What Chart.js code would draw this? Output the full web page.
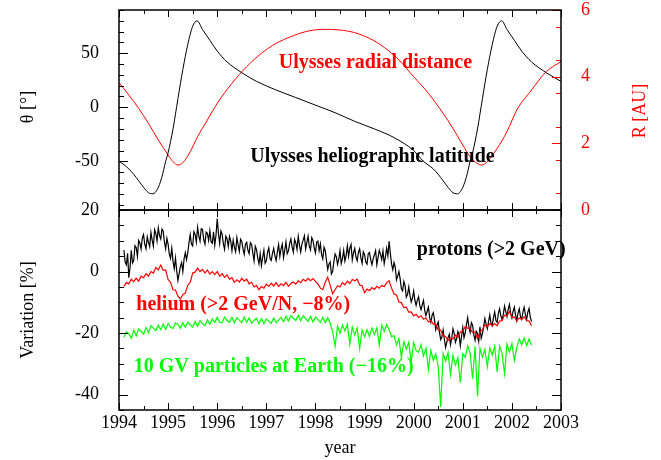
<!DOCTYPE html>
<html>
<head>
<meta charset="utf-8">
<script src="https://cdn.jsdelivr.net/npm/chart.js@4/dist/chart.umd.min.js"></script>
<style>
body { margin: 0; background: #fff; width: 661px; height: 460px; position: relative; overflow: hidden; }
canvas { position: absolute; left: 0; }
#top { top: 0; }
#bottom { top: 200px; }
</style>
</head>
<body>
<canvas id="top" width="661" height="220"></canvas>
<canvas id="bottom" width="661" height="260"></canvas>
<script>
// tick labels
const yearTicks = [1994, 1995, 1996, 1997, 1998, 1999, 2000, 2001, 2002, 2003];
const thetaTicks = [-50, 0, 50];
const rTicks = [0, 2, 4, 6];
const varTicks = [-40, -20, 0, 20];

// Ulysses heliographic latitude [deg]
const latYears = [1994.00, 1994.10, 1994.20, 1994.30, 1994.40, 1994.50, 1994.60, 1994.69, 1994.78, 1994.87,
  1994.95, 1995.00, 1995.10, 1995.20, 1995.30, 1995.40, 1995.50, 1995.59, 1995.70, 1995.85,
  1996.00, 1996.20, 1996.50, 1996.80, 1997.20, 1997.60, 1998.00, 1998.40, 1998.80, 1999.20,
  1999.60, 2000.00, 2000.20, 2000.40, 2000.50, 2000.60, 2000.70, 2000.80, 2000.89, 2000.98,
  2001.07, 2001.15, 2001.20, 2001.30, 2001.40, 2001.50, 2001.60, 2001.70, 2001.79, 2001.90,
  2002.05, 2002.20, 2002.40, 2002.70, 2003.00];
const latitude = [-50, -53, -57, -62, -68, -74, -79, -80, -76, -65,
  -50, -42, -20, 8, 35, 58, 75, 80, 72, 62,
  52, 42, 32, 24, 16, 9, 2, -5, -13, -20,
  -28, -40, -50, -57, -62, -68, -74, -79, -80, -76,
  -65, -50, -42, -20, 8, 35, 58, 75, 80, 72,
  62, 52, 42, 32, 24];

// Ulysses radial distance [AU]
const rYears = [1994.00, 1994.20, 1994.40, 1994.60, 1994.80, 1995.00, 1995.10, 1995.20, 1995.30, 1995.45,
  1995.60, 1995.80, 1996.00, 1996.30, 1996.60, 1996.90, 1997.20, 1997.50, 1997.80, 1998.16,
  1998.50, 1998.80, 1999.10, 1999.40, 1999.70, 2000.00, 2000.30, 2000.60, 2000.80, 2001.00,
  2001.15, 2001.29, 2001.39, 2001.50, 2001.70, 2001.90, 2002.10, 2002.40, 2002.70, 2003.00];
const distance = [3.82, 3.45, 3.05, 2.6, 2.1, 1.65, 1.45, 1.35, 1.42, 1.75,
  2.2, 2.7, 3.2, 3.8, 4.3, 4.7, 5.0, 5.2, 5.35, 5.42,
  5.4, 5.32, 5.15, 4.88, 4.5, 4.0, 3.5, 2.9, 2.45, 1.95,
  1.6, 1.4, 1.35, 1.45, 1.85, 2.35, 3.0, 3.6, 4.15, 4.45];

// count-rate variations [%], sampled from 1994.10 on
const sampleStart = 1994.10;
const protonStep = 0.025;
const sampleStep = 0.05;
const protons = [
  7.0, 3.1, 2.2, 5.9, -2.0, 1.4, 6.9, 2.8, 3.6, 8.4, 7.8, 4.9, 10.1, 9.3, 7.3, 10.9, 12.0, 8.8, 7.4, 11.3,
  9.5, 8.1, 12.7, 10.2, 8.2, 13.6, 12.4, 9.9, 14.2, 11.7, 10.6, 13.8, 13.1, 9.6, 7.4, 10.8, 8.9, 5.6, 4.3, 7.6,
  3.3, 0.9, 4.4, 0.2, -2.9, -0.6, 1.7, 2.9, 0.0, 4.1, 6.1, 3.8, 6.1, 9.4, 12.0, 8.9, 8.3, 13.0, 12.1, 9.6,
  14.4, 11.6, 9.9, 13.9, 13.7, 10.4, 8.9, 12.8, 12.4, 10.1, 13.3, 9.7, 9.2, 12.9, 8.5, 11.8, 17.2, 12.4, 9.1, 13.2,
  12.1, 9.0, 7.2, 11.5, 10.7, 8.1, 11.4, 9.9, 6.8, 10.2, 7.9, 6.4, 11.0, 8.7, 6.6, 10.5, 9.8, 7.3, 5.6, 8.9,
  9.5, 6.9, 5.8, 9.4, 8.8, 6.0, 3.5, 8.2, 7.1, 4.4, 2.5, 5.8, 1.9, 4.6, 6.9, 2.7, 3.5, 6.3, 7.7, 4.2,
  3.6, 5.9, 7.5, 5.1, 3.6, 6.4, 8.8, 4.9, 7.4, 8.9, 4.5, 7.0, 9.6, 5.8, 6.7, 9.1, 10.6, 8.0, 6.3, 10.4,
  9.3, 7.2, 11.4, 8.6, 6.4, 9.0, 10.2, 11.6, 7.3, 9.4, 11.5, 8.2, 7.0, 11.0, 10.1, 7.7, 6.1, 9.6, 9.9, 6.8,
  9.0, 5.5, 4.1, 7.9, 6.8, 3.6, 0.7, 2.4, 3.1, -0.8, 0.0, 3.2, 5.7, 4.8, 2.3, 4.0, 6.8, 2.6, 4.2, 6.9,
  3.4, 5.2, 8.4, 4.9, 7.6, 8.8, 3.8, 6.1, 7.5, 4.8, 3.5, 6.2, 7.4, 4.5, 2.7, 6.4, 5.5, 3.1, 2.4, 5.8,
  6.2, 3.9, 2.2, 4.1, 5.4, 6.8, 2.2, 4.6, 6.9, 5.6, 3.9, 6.7, 2.6, 4.8, 7.6, 5.1, 9.8, 5.9, 2.4, 0.6,
  2.9, 1.4, -2.7, -1.5, 0.0, -2.4, -5.6, -6.3, -3.2, -4.6, -8.3, -7.5, -5.0, -7.8, -9.9, -8.6, -6.3, -9.4, -11.0, -9.3,
  -8.2, -11.1, -12.4, -10.8, -9.4, -12.6, -14.3, -12.9, -11.6, -14.9, -16.5, -14.2, -13.4, -15.8, -18.9, -17.4, -16.4, -19.6, -22.1, -21.3,
  -19.0, -22.0, -24.6, -22.9, -21.5, -20.4, -23.8, -21.6, -18.6, -20.1, -23.0, -21.8, -19.5, -20.6, -24.1, -21.1, -18.2, -21.5, -19.9, -17.2,
  -15.0, -18.1, -19.8, -16.6, -17.4, -20.6, -22.3, -19.4, -20.1, -22.6, -18.0, -21.7, -20.2, -17.9, -15.3, -17.1, -18.6, -16.2, -14.1, -16.8,
  -17.6, -15.0, -13.2, -15.9, -16.5, -13.6, -12.1, -14.4, -15.6, -13.9, -11.2, -13.0, -14.6, -12.2, -10.7, -13.5, -15.1, -12.9, -11.6, -14.2,
  -16.0, -13.4, -12.1, -14.7, -15.5, -13.1, -11.6, -14.0, -15.6, -13.2, -12.0, -14.8, -16.3];
const helium = [
  -4.8, -3.6, -4.0, -2.5, -3.3, -2.2, -3.1, -1.5, -2.0, -0.7, -1.5, 0.0, -0.5, 1.3, 0.6, 2.1, 0.4, 0.5, -2.6, -3.5,
  -6.0, -6.0, -8.0, -8.9, -7.5, -7.0, -4.5, -3.5, -0.5, -0.2, 1.1, 0.0, 0.7, -0.5, 0.5, -0.8, 0.0, -1.0, 0.0, -1.5,
  -0.7, -1.9, -1.1, -2.5, -2.0, -3.5, -2.7, -3.4, -2.2, -3.1, -2.5, -4.0, -3.5, -5.0, -4.5, -5.9, -4.9, -5.4, -4.1, -4.8,
  -3.8, -4.7, -3.6, -4.9, -4.0, -4.6, -3.5, -4.8, -3.9, -3.4, -4.1, -3.0, -3.6, -2.5, -3.1, -2.2, -3.0, -2.3, -3.2, -4.0,
  -5.4, -5.9, -3.5, -1.8, -4.5, -7.2, -5.9, -4.6, -5.0, -3.6, -4.3, -3.1, -3.9, -2.6, -3.0, -2.5, -4.4, -4.6, -6.9, -5.7,
  -6.2, -5.2, -5.8, -4.8, -5.4, -4.5, -4.9, -3.6, -3.0, -5.4, -7.3, -7.6, -9.9, -10.1, -11.7, -11.6, -13.2, -13.1, -14.4, -13.9,
  -14.9, -14.4, -15.5, -15.1, -16.4, -15.9, -17.1, -17.1, -18.9, -19.1, -20.9, -21.1, -22.4, -21.6, -21.9, -20.6, -21.4, -19.6, -19.4, -17.9,
  -18.4, -18.6, -19.8, -19.6, -21.9, -19.6, -18.9, -17.4, -17.9, -16.9, -17.7, -16.9, -17.6, -16.1, -15.9, -14.2, -14.4, -13.0, -14.9, -14.8,
  -16.1, -15.1, -15.6, -14.7, -15.9, -16.1, -17.6];
const earth10GV = [
  -21.4, -19.6, -20.2, -21.7, -19.1, -20.9, -18.6, -19.4, -20.4, -18.2, -19.9, -17.6, -18.4, -19.2, -17.5, -18.9, -17.1, -18.8, -16.9, -18.1,
  -18.5, -16.7, -17.2, -18.4, -16.6, -18.1, -16.4, -17.3, -18.0, -16.2, -17.8, -16.0, -16.9, -17.6, -15.7, -17.1, -15.4, -16.6, -14.9, -16.5,
  -16.6, -14.8, -15.9, -16.5, -14.9, -16.7, -15.0, -15.8, -16.6, -14.8, -16.5, -15.1, -16.8, -15.9, -15.2, -16.9, -15.3, -17.0, -15.4, -16.2,
  -16.8, -15.1, -16.6, -15.7, -14.9, -16.3, -14.6, -16.1, -14.3, -15.2, -15.9, -14.2, -16.0, -14.4, -15.3, -16.2, -14.6, -16.4, -14.8, -15.6,
  -16.5, -14.9, -16.6, -15.0, -16.8, -19.5, -24.3, -17.8, -20.0, -17.4, -19.3, -17.2, -23.6, -18.0, -20.6, -18.4, -25.1, -19.0, -21.2, -18.9,
  -21.0, -18.4, -20.5, -18.3, -23.9, -17.4, -19.4, -17.2, -18.9, -21.2, -20.8, -23.9, -21.8, -27.9, -22.8, -25.2, -23.0, -29.6, -23.1, -25.7,
  -26.2, -23.8, -27.4, -24.9, -31.8, -25.6, -28.9, -26.8, -31.0, -44.0, -26.6, -29.1, -26.3, -33.5, -27.2, -30.4, -28.0, -36.1, -26.7, -27.9,
  -24.1, -26.6, -34.8, -24.3, -40.5, -24.9, -27.8, -25.3, -30.9, -24.8, -27.1, -24.3, -32.6, -24.2, -26.7, -33.2, -23.6, -26.1, -23.4, -28.9,
  -24.6, -21.9, -23.8, -21.6, -24.1, -22.0, -23.9];

const serif = "'Liberation Serif', 'Times New Roman', serif";
Chart.defaults.font.family = serif;
Chart.defaults.font.size = 18;
Chart.defaults.color = '#000';

function steps(a, b, s) {
  const out = [];
  for (let v = a; v <= b + 1e-9; v += s) out.push(+v.toFixed(2));
  return out;
}

function pairs(xs, ys) {
  return ys.map((y, i) => ({ x: xs[i], y: y }));
}

function sampled(ys, step) {
  return ys.map((y, i) => ({ x: +(sampleStart + i * step).toFixed(3), y: y }));
}

// keep chart areas exactly where the picture has them
function noPad(s) {
  s.paddingTop = 0;
  s.paddingBottom = 0;
  s.paddingLeft = 0;
  s.paddingRight = 0;
}

// frame, inward tick marks, notes and axis titles
const frame = {
  id: 'frame',
  afterDatasetsDraw(chart, args, opts) {
    const { ctx, chartArea: a } = chart;
    ctx.save();
    ctx.lineWidth = 1;
    (opts.marks || []).forEach(m => {
      const s = chart.scales[m.scale];
      ctx.strokeStyle = m.color || '#000';
      m.values.forEach(v => {
        const p = Math.round(s.getPixelForValue(v)) + 0.5;
        m.sides.forEach(side => {
          ctx.beginPath();
          if (side === 'top') { ctx.moveTo(p, a.top); ctx.lineTo(p, a.top + m.len); }
          if (side === 'bottom') { ctx.moveTo(p, a.bottom); ctx.lineTo(p, a.bottom - m.len); }
          if (side === 'left') { ctx.moveTo(a.left, p); ctx.lineTo(a.left + m.len, p); }
          if (side === 'right') { ctx.moveTo(a.right, p); ctx.lineTo(a.right - m.len, p); }
          ctx.stroke();
        });
      });
    });
    ctx.strokeStyle = '#000';
    ctx.lineWidth = 1.5;
    ctx.strokeRect(a.left, a.top, a.right - a.left, a.bottom - a.top);

    ctx.textAlign = 'center';
    ctx.textBaseline = 'middle';
    ctx.font = 'bold 20px ' + serif;
    (opts.notes || []).forEach(n => {
      ctx.fillStyle = n.color;
      ctx.fillText(n.text, chart.scales.x.getPixelForValue(n.x), chart.scales[n.scale].getPixelForValue(n.y));
    });

    ctx.font = '18px ' + serif;
    (opts.titles || []).forEach(t => {
      ctx.save();
      ctx.translate(t.x, t.y);
      ctx.rotate(t.rot || 0);
      ctx.fillStyle = t.color || '#000';
      ctx.textBaseline = t.baseline || 'middle';
      ctx.fillText(t.text, 0, 0);
      ctx.restore();
    });
    ctx.restore();
  }
};

const hiddenGrid = { display: false, drawTicks: false };

new Chart(document.getElementById('top'), {
  type: 'line',
  data: {
    datasets: [
      {
        label: 'Ulysses heliographic latitude',
        data: pairs(latYears, latitude),
        yAxisID: 'theta',
        borderColor: '#000000',
        borderWidth: 1,
        pointRadius: 0,
        tension: 0.4,
        cubicInterpolationMode: 'monotone'
      },
      {
        label: 'Ulysses radial distance',
        data: pairs(rYears, distance),
        yAxisID: 'dist',
        borderColor: '#ff0000',
        borderWidth: 1,
        pointRadius: 0,
        tension: 0.4,
        cubicInterpolationMode: 'monotone'
      }
    ]
  },
  options: {
    responsive: false,
    animation: false,
    layout: { padding: { top: 10, bottom: 10, left: 0, right: 0 } },
    plugins: {
      legend: { display: false },
      tooltip: { enabled: false },
      frame: {
        marks: [
          { scale: 'x', values: yearTicks, len: 7, sides: ['top', 'bottom'] },
          { scale: 'x', values: steps(1994.5, 2002.5, 1), len: 4, sides: ['top', 'bottom'] },
          { scale: 'theta', values: thetaTicks, len: 9, sides: ['left'] },
          { scale: 'theta', values: steps(-90, 90, 10), len: 5, sides: ['left'] },
          { scale: 'dist', values: rTicks, len: 9, sides: ['right'], color: '#ff0000' },
          { scale: 'dist', values: steps(0.5, 5.5, 1), len: 5, sides: ['right'], color: '#ff0000' }
        ],
        notes: [
          { text: 'Ulysses radial distance', x: 1999.22, y: 41.5, scale: 'theta', color: '#ff0000' },
          { text: 'Ulysses heliographic latitude', x: 1999.16, y: -46, scale: 'theta', color: '#000000' }
        ],
        titles: [
          { text: 'θ [°]', x: 28, y: 107, rot: -Math.PI / 2 },
          { text: 'R [AU]', x: 640, y: 111, rot: -Math.PI / 2, color: '#ff0000' }
        ]
      }
    },
    scales: {
      x: { type: 'linear', min: 1994, max: 2003, display: false, afterFit: noPad },
      theta: {
        type: 'linear', position: 'left', min: -95, max: 90,
        grid: hiddenGrid, border: { display: false },
        ticks: { padding: 20 },
        afterBuildTicks: s => { s.ticks = thetaTicks.map(v => ({ value: v })); },
        afterFit: s => { s.width = 119; noPad(s); }
      },
      dist: {
        type: 'linear', position: 'right', min: 0, max: 6,
        grid: hiddenGrid, border: { display: false },
        ticks: { padding: 20, color: '#ff0000' },
        afterBuildTicks: s => { s.ticks = rTicks.map(v => ({ value: v })); },
        afterFit: s => { s.width = 100; noPad(s); }
      }
    }
  },
  plugins: [frame]
});

new Chart(document.getElementById('bottom'), {
  type: 'line',
  data: {
    datasets: [
      {
        label: 'helium (>2 GeV/N, -8%)',
        data: sampled(helium, sampleStep),
        borderColor: '#ff0000',
        borderWidth: 1.2,
        pointRadius: 0
      },
      {
        label: 'protons (>2 GeV)',
        data: sampled(protons, protonStep),
        borderColor: '#000000',
        borderWidth: 1.2,
        pointRadius: 0
      },
      {
        label: '10 GV particles at Earth (-16%)',
        data: sampled(earth10GV, sampleStep),
        borderColor: '#00ff00',
        borderWidth: 1.2,
        pointRadius: 0
      }
    ]
  },
  options: {
    responsive: false,
    animation: false,
    layout: { padding: { top: 10, bottom: 0, left: 0, right: 100 } },
    plugins: {
      legend: { display: false },
      tooltip: { enabled: false },
      frame: {
        marks: [
          { scale: 'x', values: yearTicks, len: 7, sides: ['top', 'bottom'] },
          { scale: 'x', values: steps(1994.5, 2002.5, 1), len: 4, sides: ['top', 'bottom'] },
          { scale: 'y', values: varTicks, len: 9, sides: ['left', 'right'] },
          { scale: 'y', values: steps(-45, 20, 5), len: 5, sides: ['left', 'right'] }
        ],
        notes: [
          { text: 'protons (>2 GeV)', x: 2001.58, y: 7, scale: 'y', color: '#000000' },
          { text: 'helium (>2 GeV/N, \u22128%)', x: 1996.53, y: -10.9, scale: 'y', color: '#ff0000' },
          { text: '10 GV particles at Earth (\u221216%)', x: 1997.15, y: -31, scale: 'y', color: '#00ff00' }
        ],
        titles: [
          { text: 'Variation [%]', x: 28, y: 110, rot: -Math.PI / 2 },
          { text: 'year', x: 340, y: 253, baseline: 'alphabetic' }
        ]
      }
    },
    scales: {
      x: {
        type: 'linear', min: 1994, max: 2003,
        grid: hiddenGrid, border: { display: false },
        ticks: { padding: 2, callback: v => String(v) },
        afterBuildTicks: s => { s.ticks = yearTicks.map(v => ({ value: v })); },
        afterFit: s => { s.height = 50; noPad(s); }
      },
      y: {
        type: 'linear', position: 'left', min: -45, max: 20,
        grid: hiddenGrid, border: { display: false },
        ticks: { padding: 20 },
        afterBuildTicks: s => { s.ticks = varTicks.map(v => ({ value: v })); },
        afterFit: s => { s.width = 119; noPad(s); }
      }
    }
  },
  plugins: [frame]
});
</script>
</body>
</html>
